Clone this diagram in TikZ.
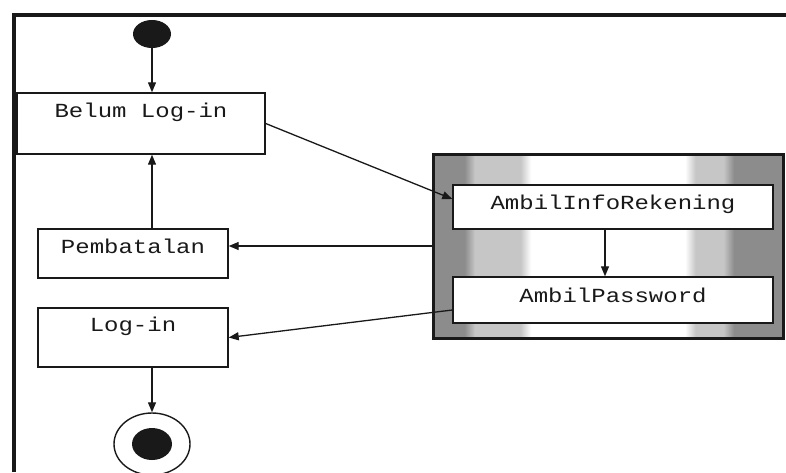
\documentclass[tikz,border=0pt]{standalone}
\usepackage{fontspec}
\newfontfamily\monof[FakeStretch=1.2]{Liberation Mono}
\usetikzlibrary{arrows.meta,calc,shapes.geometric}
\definecolor{cdark}{RGB}{140,140,140}
\definecolor{clight}{RGB}{198,198,198}
\definecolor{ink}{RGB}{25,25,25}
\pgfdeclarehorizontalshading{compshade}{100bp}{color(0bp)=(cdark); color(29.5bp)=(cdark); color(31bp)=(clight); color(37.5bp)=(clight); color(39bp)=(white); color(61bp)=(white); color(62.5bp)=(clight); color(66.5bp)=(clight); color(68bp)=(cdark); color(100bp)=(cdark)}
\begin{document}
\begin{tikzpicture}[x=1pt,y=-1pt,
  box/.style={draw=ink, line width=1.4pt, fill=white, rectangle, inner sep=0pt},
  lbl/.style={font=\monof\fontsize{20}{24}\selectfont, text=ink, inner sep=0pt, anchor=base},
  arr/.style={draw=ink, line width=1.3pt, -{Triangle[length=10pt,width=8pt]}},
  ln/.style={draw=ink, line width=1.3pt}]
\useasboundingbox (0,0) rectangle (786,472);
\fill[white] (0,0) rectangle (786,472);
\draw[line width=4.5pt, ink] (14,472) -- (14,15) -- (786,15);

% initial node
\node[ellipse, fill=ink, minimum width=38pt, minimum height=28pt, inner sep=0pt] (init) at (152,34) {};

% boxes on the left
\node[box, minimum width=248pt, minimum height=61pt] (belum) at (141,123.5) {};
\node[lbl] (tbelum) at (141,117) {Belum Log-in};
\node[box, minimum width=190pt, minimum height=49pt] (pemb) at (133,253.5) {};
\node[lbl] (tpemb) at (133,253) {Pembatalan};
\node[box, minimum width=190pt, minimum height=59pt] (login) at (133,337.5) {};
\node[lbl] (tlogin) at (133,331) {Log-in};

% final node
\node[ellipse, draw=ink, line width=1.4pt, fill=white, minimum width=76pt, minimum height=62pt, inner sep=0pt] (final) at (152,444) {};
\node[ellipse, fill=ink, minimum width=40pt, minimum height=32pt, inner sep=0pt] (finalin) at (152,444) {};

% composite state
\node[draw=ink, line width=3pt, shading=compshade, minimum width=350pt, minimum height=184pt, inner sep=0pt] (comp) at (608,246) {};
\node[box, minimum width=320pt, minimum height=44pt] (info) at (613,207) {};
\node[lbl] (tinfo) at (613,209) {AmbilInfoRekening};
\node[box, minimum width=320pt, minimum height=46pt] (pass) at (613,300) {};
\node[lbl] (tpass) at (613,302) {AmbilPassword};

% connectors
\draw[arr] (init) -- (init |- belum.north);
\draw[arr] (init |- pemb.north) -- (init |- belum.south);
\draw[arr] (final |- login.south) -- (final.north);
\draw[arr] (belum.east) -- ([yshift=8pt]info.west);
\draw[arr] ([xshift=-8pt]info.south) -- ([xshift=-8pt]pass.north);
\draw[arr] (comp.west) -- (comp.west -| pemb.east);
\draw[arr] ([yshift=-10pt]pass.west) -- (login.east);
\end{tikzpicture}
\end{document}
